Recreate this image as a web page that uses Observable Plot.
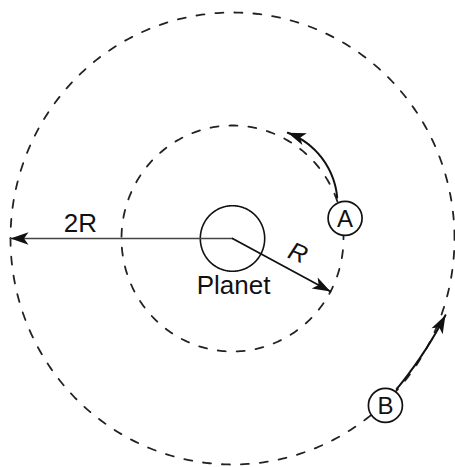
<!DOCTYPE html>
<html>
<head>
<meta charset="utf-8">
<script src="https://cdn.jsdelivr.net/npm/d3@7"></script>
<script src="https://cdn.jsdelivr.net/npm/@observablehq/plot@0.6"></script>
<style>
  html, body { margin: 0; padding: 0; background: #ffffff; }
  #chart svg { display: block; }
</style>
</head>
<body>
<div id="chart"></div>
<script>
// ---- Diagram values (in units of R) ----
const orbitNames = ["A", "B"];
const orbitRadii = [1, 2];
const satelliteAngles = [10, -47];      // degrees, counter-clockwise from +x
const satelliteRadii = [1.03, 2.02];
const motionArcStartRadii = [1.01, 1.99];
const motionArcMidRadii = [1.075, 1.995];
const motionArcEndRadii = [1.06, 2.035];
const motionArcFrom = [21, -42];
const motionArcTo = [62, -19.5];
const planetName = "Planet";
const planetRadius = 0.29;
const radiusLabels = ["2R", "R"];
const radiusLengths = [2, 1];
const radiusAngles = [180, -28];

const rad = Math.PI / 180;
// arc whose radius passes through r0 (start), rm (middle), r1 (end)
const arc = (r0, rm, r1, from, to, step = 1) => {
  const n = Math.max(2, Math.round(Math.abs(to - from) / step) + 1);
  return d3.range(n).map(i => {
    const t = i / (n - 1);
    const a = (from + (to - from) * t) * rad;
    const r = r0 * (1 - t) * (1 - 2 * t) + rm * 4 * t * (1 - t) + r1 * t * (2 * t - 1);
    return {x: r * Math.cos(a), y: r * Math.sin(a)};
  });
};
const ring = r => arc(r, r, r, 0, 360);

const satellites = orbitNames.map((name, i) => ({
  name,
  x: satelliteRadii[i] * Math.cos(satelliteAngles[i] * rad),
  y: satelliteRadii[i] * Math.sin(satelliteAngles[i] * rad)
}));

const headMarker = (color, context) => {
  const doc = (context && context.document) || document;
  const m = d3.select(doc.createElementNS("http://www.w3.org/2000/svg", "marker"))
    .attr("viewBox", "-19 -7 20 14")
    .attr("markerWidth", 20)
    .attr("markerHeight", 14)
    .attr("markerUnits", "userSpaceOnUse")
    .attr("refX", 0)
    .attr("refY", 0)
    .attr("orient", "auto")
    .attr("fill", "#111")
    .attr("stroke", "none");
  m.append("path").attr("d", "M0,0L-18,-6.3L-13.5,0L-18,6.3Z");
  return m.node();
};

const font = "'Liberation Sans', Arial, Helvetica, sans-serif";

const marks = [
  // outer orbit
  Plot.line(ring(orbitRadii[1]), {x: "x", y: "y", stroke: "#222", strokeWidth: 1.8, strokeDasharray: "8,11"}),
  // inner orbit
  Plot.line(ring(orbitRadii[0]), {x: "x", y: "y", stroke: "#222", strokeWidth: 1.8, strokeDasharray: "8,11"}),
  // planet
  Plot.line(ring(planetRadius), {x: "x", y: "y", stroke: "#111", strokeWidth: 1.6}),
  // 2R arrow (lighter)
  Plot.line([{x: 0, y: 0}, {x: radiusLengths[0] * Math.cos(radiusAngles[0] * rad), y: radiusLengths[0] * Math.sin(radiusAngles[0] * rad)}],
    {x: "x", y: "y", stroke: "#444", strokeWidth: 1.7, markerEnd: headMarker}),
  // R arrow
  Plot.line([{x: 0, y: 0}, {x: radiusLengths[1] * Math.cos(radiusAngles[1] * rad), y: radiusLengths[1] * Math.sin(radiusAngles[1] * rad)}],
    {x: "x", y: "y", stroke: "#111", strokeWidth: 1.8, markerEnd: headMarker}),
  // motion arcs
  ...orbitNames.map((n, i) => Plot.line(arc(motionArcStartRadii[i], motionArcMidRadii[i], motionArcEndRadii[i], motionArcFrom[i], motionArcTo[i]),
    {x: "x", y: "y", stroke: "#111", strokeWidth: 2, markerEnd: headMarker})),
  // satellites
  Plot.dot(satellites, {x: "x", y: "y", r: 17, fill: "white", stroke: "#111", strokeWidth: 1.7}),
  Plot.text(satellites, {x: "x", y: "y", text: "name", fontSize: 24, fontFamily: font, fill: "#111", dy: 1}),
  // labels
  Plot.text([radiusLabels[0]], {x: -1.37, y: 0.13, text: d => d, fontSize: 26, fontFamily: font, fill: "#111"}),
  Plot.text([radiusLabels[1]], {x: 0.59, y: -0.13, text: d => d, fontSize: 25, fontFamily: font, fontStyle: "italic", fill: "#111", rotate: 22}),
  Plot.text([planetName], {x: 0.01, y: -0.42, text: d => d, fontSize: 26, fontFamily: font, fill: "#111", letterSpacing: "0.5px"})
];

const chart = Plot.plot({
  width: 455,
  height: 467,
  margin: 0,
  x: {domain: [-232 / 111, 223 / 111], axis: null},
  y: {domain: [-229 / 113, 238 / 113], axis: null},
  style: {background: "#ffffff", overflow: "visible"},
  marks
});
document.getElementById("chart").appendChild(chart);
</script>
</body>
</html>
